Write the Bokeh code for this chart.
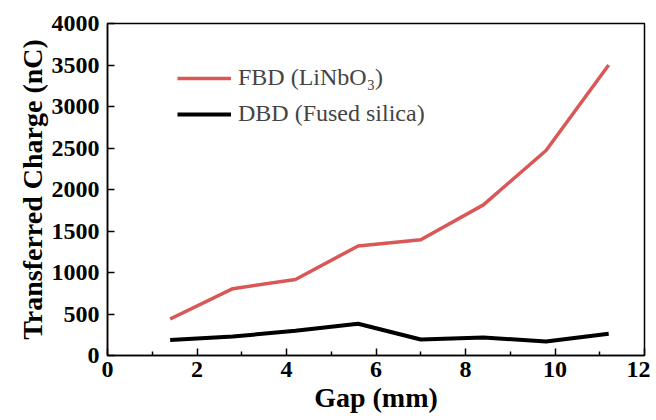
from bokeh.plotting import figure
from bokeh.models import Range1d, Legend, LegendItem, FixedTicker
from bokeh.embed import file_html
from bokeh.resources import INLINE

gap = [1.4, 2.8, 4.2, 5.6, 7.0, 8.4, 9.8, 11.2]
fbd = [440, 805, 915, 1320, 1395, 1815, 2470, 3500]
dbd = [188, 228, 298, 382, 192, 218, 168, 262]
x_ticks = [0, 2, 4, 6, 8, 10, 12]
y_ticks = [0, 500, 1000, 1500, 2000, 2500, 3000, 3500, 4000]

p = figure(width=650, height=418, output_backend="svg", toolbar_location=None,
           x_range=Range1d(0, 12), y_range=Range1d(0, 4000),
           min_border_left=107, min_border_right=6, min_border_top=23, min_border_bottom=63)
p.grid.visible = False
p.outline_line_color = "black"
p.outline_line_width = 1.5
p.background_fill_color = "white"
p.border_fill_color = "white"

r1 = p.line(gap, fbd, line_color="#D95757", line_width=3.5)
r2 = p.line(gap, dbd, line_color="black", line_width=4)

FONT = "Liberation Serif"
for ax in (p.xaxis[0], p.yaxis[0]):
    ax.axis_line_color = "black"
    ax.axis_line_width = 1.5
    ax.major_tick_in = 7
    ax.major_tick_out = 0
    ax.minor_tick_in = 4
    ax.minor_tick_out = 0
    ax.major_tick_line_width = 1.5
    ax.minor_tick_line_width = 1.5
    ax.major_label_text_font = FONT
    ax.major_label_text_font_style = "bold"
    ax.major_label_text_font_size = "24px"
    ax.major_label_text_color = "black"
    ax.axis_label_text_font = FONT
    ax.axis_label_text_font_style = "bold"
    ax.axis_label_text_font_size = "28px"
    ax.axis_label_text_color = "black"

p.xaxis.ticker = FixedTicker(ticks=x_ticks, minor_ticks=[1, 3, 5, 7, 9, 11])
p.yaxis.ticker = FixedTicker(ticks=y_ticks, minor_ticks=[])
p.xaxis.axis_label = "Gap (mm)"
p.yaxis.axis_label = "Transferred Charge (nC)"
p.xaxis.major_label_standoff = 6
p.xaxis.axis_label_standoff = 2
p.yaxis.major_label_standoff = 8
p.yaxis.axis_label_standoff = 1

legend = Legend(items=[LegendItem(label="FBD (LiNbO₃)", renderers=[r1]),
                       LegendItem(label="DBD (Fused silica)", renderers=[r2])],
                location=(70, 228))
legend.label_text_font = FONT
legend.label_text_font_size = "24px"
legend.glyph_width = 54
legend.label_standoff = 7
legend.spacing = 9
legend.border_line_color = None
legend.background_fill_alpha = 0
p.add_layout(legend, "center")

open("out.html", "w").write(file_html(p, INLINE))
